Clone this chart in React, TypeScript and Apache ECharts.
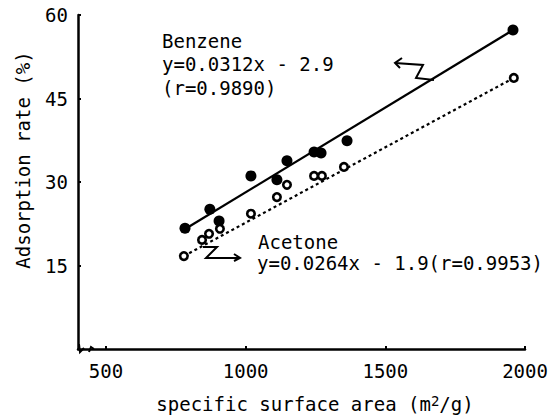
import React, { useEffect, useRef } from "react";
import * as echarts from "echarts";

const benzeneX = [783, 872, 905, 1019, 1112, 1148, 1245, 1270, 1363, 1957];
const benzeneY = [21.7, 25.1, 23.0, 31.1, 30.4, 33.8, 35.4, 35.2, 37.4, 57.3];
const acetoneX = [779, 844, 869, 908, 1019, 1112, 1148, 1245, 1273, 1352, 1960];
const acetoneY = [16.7, 19.6, 20.7, 21.6, 24.3, 27.3, 29.5, 31.1, 31.1, 32.7, 48.7];
const benzeneFitX = [785, 1957];
const benzeneFitY = [21.6, 57.3];
const acetoneFitX = [779, 1960];
const acetoneFitY = [16.7, 48.7];
const xTicks = [500, 1000, 1500, 2000];
const yTicks = [15, 30, 45, 60];

const FONT = '"DejaVu Sans Mono", monospace';

const zip = (xs: number[], ys: number[]) => xs.map((x, i) => [x, ys[i]]);

export default function App() {
  const ref = useRef<HTMLDivElement>(null);
  useEffect(() => {
    if (!ref.current) return;
    const chart = echarts.init(ref.current, undefined, { renderer: "svg" });
    const txt = (text: string, x: number, y: number, extra: any = {}) => ({
      type: "text",
      x,
      y,
      style: {
        text,
        fontFamily: FONT,
        fontSize: 19,
        fill: "#000",
        verticalAlign: "middle",
        align: "left",
        ...extra,
      },
    });
    chart.setOption({
      animation: false,
      backgroundColor: "#fff",
      grid: { left: 78, right: 33, top: 15, bottom: 66 },
      xAxis: {
        type: "value",
        min: 400,
        max: 2000,
        splitLine: { show: false },
        axisLine: { lineStyle: { color: "#000", width: 2.5 } },
        axisTick: { inside: true, length: 3, lineStyle: { color: "#000", width: 2 }, customValues: xTicks },
        axisLabel: {
          customValues: xTicks,
          formatter: (v: number) => String(v),
          color: "#000",
          fontFamily: FONT,
          fontSize: 19,
          margin: 12,
        },
      },
      yAxis: {
        type: "value",
        min: 0,
        max: 60,
        interval: 15,
        splitLine: { show: false },
        axisLine: { show: true, lineStyle: { color: "#000", width: 2.5 } },
        axisTick: { show: true, inside: true, length: 3, lineStyle: { color: "#000", width: 2 }, customValues: yTicks },
        axisLabel: {
          customValues: yTicks,
          formatter: (v: number) => String(v),
          color: "#000",
          fontFamily: FONT,
          fontSize: 19,
          margin: 10,
        },
      },
      series: [
        {
          type: "line",
          data: zip(benzeneFitX, benzeneFitY),
          symbol: "none",
          lineStyle: { color: "#000", width: 2.3 },
          z: 1,
        },
        {
          type: "line",
          data: zip(acetoneFitX, acetoneFitY),
          symbol: "none",
          lineStyle: { color: "#000", width: 2.2, type: [3, 3] },
          z: 1,
        },
        {
          type: "scatter",
          data: zip(benzeneX, benzeneY),
          symbol: "circle",
          symbolSize: 11,
          itemStyle: { color: "#000", opacity: 1 },
          z: 3,
        },
        {
          type: "scatter",
          data: zip(acetoneX, acetoneY),
          symbol: "circle",
          symbolSize: 7.5,
          itemStyle: { color: "#fff", borderColor: "#000", borderWidth: 2.6, opacity: 1 },
          z: 3,
        },
      ],
      graphic: [
        txt("Benzene", 162, 41),
        txt("y=0.0312x - 2.9", 162, 64),
        txt("(r=0.9890)", 162, 88),
        txt("Acetone", 258, 242),
        txt("y=0.0264x - 1.9(r=0.9953)", 257, 263),
        {
          type: "text",
          x: 23,
          y: 160,
          rotation: Math.PI / 2,
          style: {
            text: "Adsorption rate (%)",
            fontFamily: FONT,
            fontSize: 19,
            fill: "#000",
            align: "center",
            verticalAlign: "middle",
          },
        },
        {
          type: "text",
          x: 315,
          y: 404,
          style: {
            text: "{a|specific surface area (m}{s|2}{a|/g)}",
            align: "center",
            verticalAlign: "middle",
            rich: {
              a: { fontFamily: FONT, fontSize: 19, fill: "#000", lineHeight: 20 },
              s: { fontFamily: FONT, fontSize: 14, fill: "#000", verticalAlign: "top", lineHeight: 14 },
            },
          },
        },
        // zigzag arrow near Benzene
        {
          type: "polyline",
          shape: { points: [[395, 63], [423, 65], [416, 78], [434, 80]] },
          style: { stroke: "#000", lineWidth: 2, fill: null },
        },
        {
          type: "polyline",
          shape: { points: [[402, 58], [395, 63], [400, 68]] },
          style: { stroke: "#000", lineWidth: 2, fill: null },
        },
        // zigzag arrow near Acetone
        {
          type: "polyline",
          shape: { points: [[203, 247], [217, 247], [206, 258], [240, 258]] },
          style: { stroke: "#000", lineWidth: 2, fill: null },
        },
        {
          type: "polyline",
          shape: { points: [[234, 254], [240, 258], [234, 261]] },
          style: { stroke: "#000", lineWidth: 2, fill: null },
        },
        // axis break
        {
          type: "rect",
          shape: { x: 81, y: 344, width: 12, height: 10 },
          style: { fill: "#fff" },
        },
        {
          type: "polyline",
          shape: { points: [[79, 344], [80, 352], [84, 348]] },
          style: { stroke: "#000", lineWidth: 2, fill: null },
        },
        {
          type: "polyline",
          shape: { points: [[89, 352], [91, 347], [94, 349]] },
          style: { stroke: "#000", lineWidth: 2, fill: null },
        },
      ],
    });
    return () => chart.dispose();
  }, []);
  return (
    <div
      ref={ref}
      style={{ position: "fixed", left: 0, top: 0, width: 558, height: 415 }}
    />
  );
}
